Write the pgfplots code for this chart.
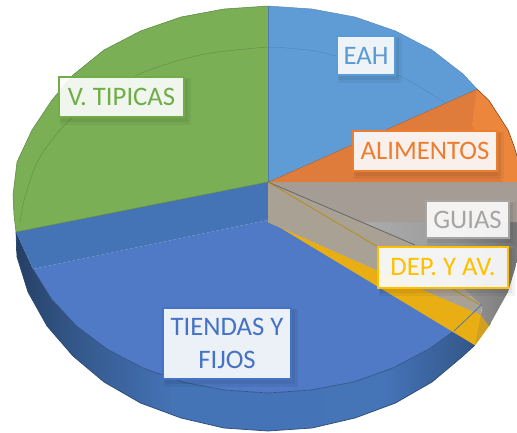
\documentclass[border=0pt]{standalone}
\usepackage{fontspec}
\setmainfont{Carlito}
\usepackage{pgfplots}
\pgfplotsset{compat=1.18}
\definecolor{cGreen}{HTML}{7AAF56}
\definecolor{cBlueL}{HTML}{5F9CD6}
\definecolor{cOrD}{HTML}{DF7C3C}
\definecolor{cOrL}{HTML}{EC863C}
\definecolor{cBand}{HTML}{4473B6}
\definecolor{cTop}{HTML}{507AC5}
\definecolor{cGreyA}{HTML}{A59D95}
\definecolor{cGreyB}{HTML}{ACACAC}
\definecolor{cWall}{HTML}{A9A193}
\definecolor{cGold}{HTML}{E9AE14}
\definecolor{cGoldD}{HTML}{D2A020}
\definecolor{lBlue}{HTML}{5B9BD5}
\definecolor{lOr}{HTML}{ED7D31}
\definecolor{lGrey}{HTML}{A5A5A5}
\definecolor{lGold}{HTML}{FFC000}
\definecolor{lGreen}{HTML}{70AD47}
\definecolor{lBlueD}{HTML}{4472C4}
\pgfdeclarehorizontalshading{wallblue}{100bp}{color(0bp)=(black!45!cBand); color(25bp)=(black!45!cBand); color(31bp)=(black!25!cBand); color(42bp)=(cBand); color(65bp)=(cBand!90!cTop); color(70bp)=(black!12!cBand); color(75bp)=(black!25!cBand); color(100bp)=(black!25!cBand)}
\pgfdeclarehorizontalshading{wallgrey}{100bp}{color(0bp)=(cGreyB); color(25bp)=(cGreyB); color(55bp)=(black!10!cGreyB); color(75bp)=(black!30!cGreyB); color(100bp)=(black!30!cGreyB)}
\newcommand{\lab}[6]{% x1 y1 x2 y2 colour text
  \fill[black,opacity=.05] (axis cs:#1+1,#2+1) rectangle (axis cs:#3+7,#4+8);
  \fill[black,opacity=.06] (axis cs:#1+2,#2+2) rectangle (axis cs:#3+4,#4+5);
  \fill[white,opacity=.9] (axis cs:#1,#2) rectangle (axis cs:#3,#4);
  \draw[#5,line width=2.4pt] (axis cs:#1,#2) rectangle (axis cs:#3,#4);
  \node[text=#5,font=\fontsize{26.7}{33}\selectfont,align=center,inner sep=0pt] at (axis cs:{(#1+#3)/2},{(#2+#4)/2}) {#6};
}
\begin{document}
\begin{tikzpicture}
\begin{axis}[
  width=517pt,height=432pt,scale only axis,
  xmin=0,xmax=517,ymin=0,ymax=432,y dir=reverse,
  hide axis,clip=true,no markers,
]
% keeps the whole frame in the picture
\path (axis cs:0,0) rectangle (axis cs:517,432);
% outer wall of TIENDAS Y FIJOS
\addplot[shade,shading=wallblue,draw=none,forget plot] coordinates {
 (16,232)(17,257)(28,292)(47,326)(73,356)(104,382)(140.5,403)(181,418)(224,428)(268,431)(312,428)(355,418)(395.5,403)(432,382)(463,356)(475,345)
 (454,331)(429,349)(393,368)(353.5,382)(311.5,390)(268,393)(224.5,390)(182.5,382)(143,368)(107,349)(76.5,326)(51.5,299)(33,269)} -- cycle;
% top of TIENDAS Y FIJOS
\addplot[fill=cTop,draw=none,forget plot] coordinates {
 (268,220)(33,269)(51.5,299)(76.5,326)(107,349)(143,368)(182.5,382)(224.5,390)(268,393)(311.5,390)(353.5,382)(393,368)(429,349)(454,331)} -- cycle;
% rim lines
\addplot[color=black!25!cBand,line width=.7pt,forget plot] coordinates {
 (33,269)(51.5,299)(76.5,326)(107,349)(143,368)(182.5,382)(224.5,390)(268,393)(311.5,390)(353.5,382)(393,368)(429,349)(454,331)};
\addplot[color=black!35!cBand,line width=.7pt,forget plot] coordinates {
 (16,232)(17,257)(28,292)(47,326)(73,356)(104,382)(140.5,403)(181,418)(224,428)(268,431)(312,428)(355,418)(395.5,403)(432,382)(463,356)(475,345)};
% cut wall of TIENDAS Y FIJOS
\addplot[fill=cBand,draw=none,forget plot] coordinates {(268,182)(16,232)(33,269)(268,220)} -- cycle;
% DEP. Y AV.
\addplot[fill=cGold,draw=cGold,line width=.4pt,forget plot] coordinates {(268,220)(475,345)(491,323)(481,315)(358,262)(268,222)} -- cycle;
\addplot[fill=cGoldD,draw=none,forget plot] coordinates {(481,315)(475,345)(491,323)} -- cycle;
% GUIAS
\addplot[shade,shading=wallgrey,draw=none,forget plot] coordinates {(415,245)(482,306)(481,315)(489,326)(508,292)(517,262)(517,222)(361,222)} -- cycle;
\addplot[fill=cGreyA,draw=none,forget plot] coordinates {(268,182)(517,182)(517,222)(361,222)} -- cycle;
\addplot[fill=cWall,draw=none,forget plot] coordinates {(268,182)(415,245)(482,306)(481,315)(358,262)(268,222)} -- cycle;
\addplot[color=black!40!cGreyB,line width=.8pt,forget plot] coordinates {(268,182)(415,245)};
\addplot[color=cGold!80!black,line width=.7pt,forget plot] coordinates {(268,182)(378,247)(482,306)};
\addplot[color=cBand!75!gray,line width=.8pt,forget plot] coordinates {(454,331)(473,313)(482,304)};
% ALIMENTOS
\addplot[fill=cOrD,draw=none,forget plot] coordinates {(268,182)(477,89)(489,100.5)(508,130)(514,146)(517,156)(517,182)} -- cycle;
\addplot[fill=cOrL,draw=none,forget plot] coordinates {(477,89)(472,125)(503,182)(517,182)(517,156)(514,146)(508,130)(489,100.5)} -- cycle;
\addplot[color=black!40!cOrD,line width=.6pt,forget plot] coordinates {(268,182)(477,89)(489,100.5)(508,130)(514,146)(517,156)};
% EAH
\addplot[fill=cBlueL,draw=none,forget plot] coordinates {(268,182)(268,6)(312,9)(355,17)(395.5,31)(432,50)(463,74)(477,89)} -- cycle;
% V. TIPICAS
\addplot[fill=cGreen,draw=none,forget plot] coordinates {(268,182)(16,232)(14,215)(13,195)(17,162)(32,130)(52,100)(73,75)(104,50)(140.5,31)(181,17)(224,9)(268,6)} -- cycle;
\addplot[color=black!25!cGreen,line width=.5pt,forget plot] coordinates {(268,6)(224,9)(181,17)(140.5,31)(104,50)(73,75)(52,100)(32,130)(17,162)(13,195)(14,215)(16,232)(268,182)};
\addplot[color=cBlueL!80!black,line width=.6pt,forget plot] coordinates {(268,6)(268,182)};
\addplot[color=cBlueL!88!black,line width=.5pt,forget plot] coordinates {(268,6)(312,9)(355,17)(395.5,31)(432,50)(463,74)(477,89)};
% faint inner ring
\addplot[color=black!20!cGreen,line width=.4pt,smooth,forget plot] coordinates {(268,47)(200,55)(133,77)(73,117)(40,157)(25,197)(20,222)};
\addplot[color=black!15!cBlueL,line width=.4pt,smooth,forget plot] coordinates {(268,47)(320,52)(397,75)(445,103)};
% labels
\lab{337}{36}{395}{75}{lBlue}{EAH}
\lab{353}{131}{497}{171}{lOr}{ALIMENTOS}
\lab{426}{201}{509}{238}{lGrey}{GUIAS}
\lab{378}{247}{508}{288}{lGold}{DEP. Y AV.}
\lab{59}{77}{184}{117}{lGreen}{V. TIPICAS}
\lab{163}{308}{291}{379}{lBlueD}{TIENDAS Y\\FIJOS}
\end{axis}
\end{tikzpicture}
\end{document}
